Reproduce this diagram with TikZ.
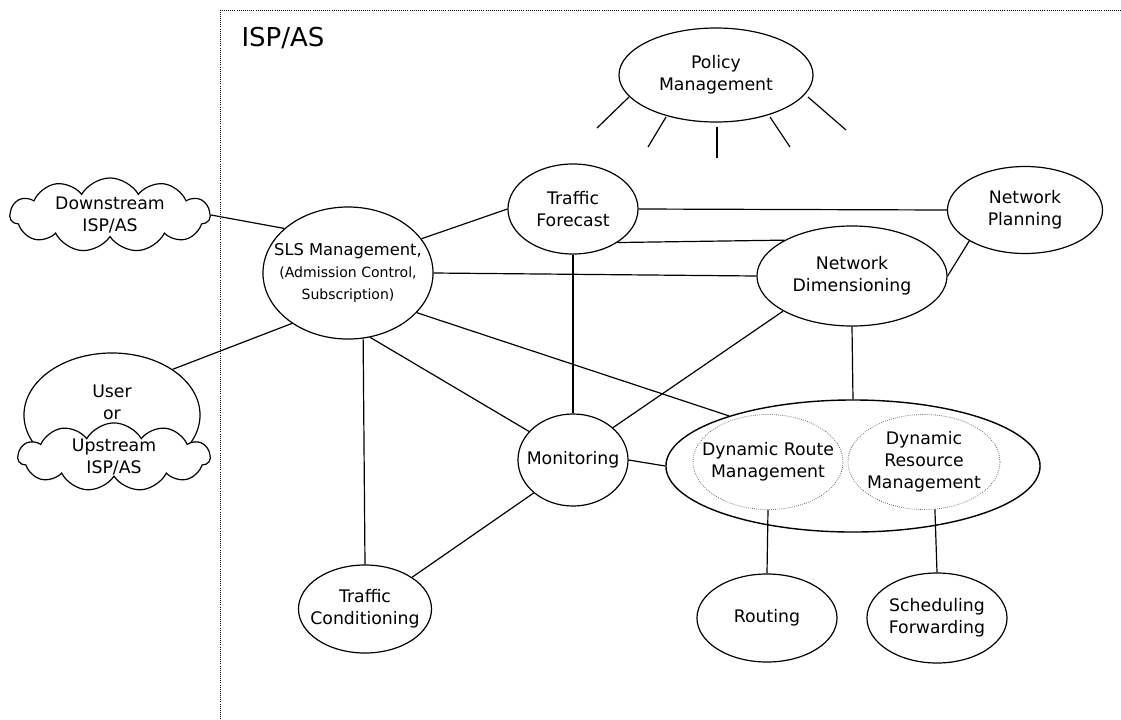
\documentclass[tikz,border=0pt]{standalone}
\usepackage{fontspec}
\setmainfont{DejaVu Sans}
\usetikzlibrary{shapes.geometric,shapes.symbols}
\newcommand{\subtxt}{\fontsize{10}{14}\selectfont}

\begin{document}
\begin{tikzpicture}[x=0.025cm, y=-0.025cm, line width=0.85pt,
    font=\fontsize{12.3}{15.5}\selectfont,
    blob/.style={ellipse, draw, fill=white, inner sep=-8mm, align=center},
    subblob/.style={ellipse, draw=black!70, densely dotted, line width=0.5pt, inner sep=-8mm, align=center},
    puff/.style={cloud, draw, fill=white, cloud puffs=11, cloud puff arc=120, cloud ignores aspect, inner sep=0pt, align=center}]
	\useasboundingbox (0,0) rectangle (1121,719);
	\draw[densely dotted, line width=0.5pt] (220,719) -- (220,10) -- (1121,10);
	\node[font=\fontsize{18.5}{20}\selectfont] (isp) at (283,38) {ISP/AS};

	% nodes
	\node[blob, minimum width=4.85cm, minimum height=2.35cm] (pm) at (716,75) {Policy\\Management};
	\node[puff, minimum width=5cm, minimum height=1.6cm] (down) at (110,215) {Downstream\\ISP/AS};
	\node[blob, minimum width=4.4cm, minimum height=3.1cm] (user) at (112,415) {};
	\node[align=center] (usertxt) at (112,402) {User\\or};
	\node[puff, minimum width=4.8cm, minimum height=1.63cm] (up) at (114,457) {Upstream\\ISP/AS};
	\node[blob, minimum width=4.25cm, minimum height=3.3cm] (sls) at (348,273) {{\fontsize{11.6}{15}\selectfont SLS Management,}\\{\subtxt (Admission Control,}\\{\subtxt Subscription)}};
	\node[blob, minimum width=3.25cm, minimum height=2.25cm] (tf) at (573,209) {Traffic\\Forecast};
	\node[blob, minimum width=3.875cm, minimum height=2.175cm] (np) at (1025,210) {Network\\Planning};
	\node[blob, minimum width=4.75cm, minimum height=2.5cm] (nd) at (852,276) {Network\\Dimensioning};
	\node[blob, minimum width=2.75cm, minimum height=2.3cm] (mon) at (573,460) {Monitoring};
	\node[blob, line width=1pt, minimum width=9.35cm, minimum height=3.3cm] (dyn) at (853,466) {};
	\node[subblob, minimum width=3.75cm, minimum height=2.375cm] (drm) at (768,462) {Dynamic Route\\Management};
	\node[subblob, minimum width=3.8cm, minimum height=2.375cm] (dres) at (924,462) {Dynamic\\Resource\\Management};
	\node[blob, minimum width=3.325cm, minimum height=2.2cm] (tc) at (365,609) {Traffic\\Conditioning};
	\node[blob, minimum width=3.5cm, minimum height=2.2cm] (rt) at (767,618) {Routing};
	\node[blob, minimum width=3.5cm, minimum height=2.25cm] (sf) at (937,618) {Scheduling\\Forwarding};

	% rays
	\foreach \p/\q in {{(629,97)}/{(597,128)}, {(666,117)}/{(648,147)}, {(717,127)}/{(717,158)}, {(770,117)}/{(790,147)}, {(808,97)}/{(846,130)}}
		\draw \p -- \q;

	% connectors
	\draw (down.east) -- (sls.145);
	\draw (sls.25) -- (tf.west);
	\draw (sls.east) -- (nd.west);
	\draw (sls.222) -- (user.37);
	\draw (sls.-77) -- (tc.north);
	\draw (sls.-71) -- (mon.147);
	\draw (sls.-30) -- (dyn.158);
	\draw (tf.east) -- (np.west);
	\draw (tf.-37) -- (nd.152);
	\draw (tf.south) -- (mon.north);
	\draw (nd.east) -- (np.209);
	\draw (nd.207) -- (mon.39);
	\draw (nd.south) -- (dyn.north);
	\draw (mon.east) -- (dyn.west);
	\draw (mon.220) -- (tc.34);
	\draw (drm.south) -- (rt.north);
	\draw (dres.-77) -- (sf.north);
\end{tikzpicture}
\end{document}
